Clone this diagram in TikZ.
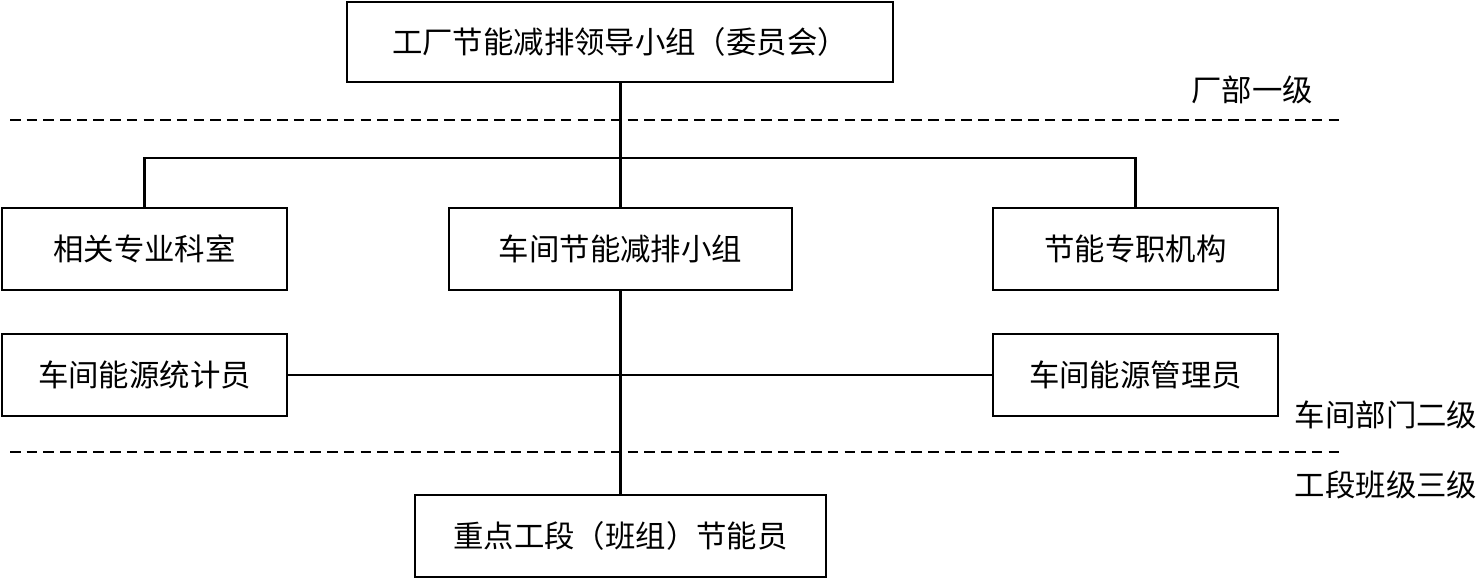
\documentclass[tikz,border=0pt]{standalone}
\usepackage{fontspec}
\setmainfont{Noto Sans CJK SC}
\usetikzlibrary{positioning,calc}

\begin{document}
\begin{tikzpicture}[x=0.02cm,y=-0.02cm]
    \tikzset{b/.style={draw,line width=1.4pt,minimum height=1.64cm,inner sep=0pt,font=\fontsize{17.3}{20}\selectfont},
      lvl/.style={font=\fontsize{17.3}{20}\selectfont,inner sep=0pt},
      ln/.style={line width=1.4pt},
      sep/.style={line width=1.1pt,dash pattern=on 6pt off 3.5pt}}
    \useasboundingbox (0,0) rectangle (1480,579);
    \node[b,minimum width=10.92cm,minimum height=1.6cm] (top) at (620,42) {工厂节能减排领导小组（委员会）};
    \node[b,minimum width=5.7cm] (rel) at (144.5,249) {相关专业科室};
    \node[b,minimum width=6.86cm] (grp) at (620.5,249) {车间节能减排小组};
    \node[b,minimum width=5.7cm] (org) at (1135.5,249) {节能专职机构};
    \node[b,minimum width=5.7cm] (stat) at (144.5,375) {车间能源统计员};
    \node[b,minimum width=5.7cm] (mgr) at (1135.5,375) {车间能源管理员};
    \node[b,minimum width=8.22cm] (team) at (620.5,536) {重点工段（班组）节能员};
    \node[lvl] (l1) at (1252,90) {厂部一级};
    \node[lvl] (l2) at (1386,415) {车间部门二级};
    \node[lvl] (l3) at (1386,485) {工段班级三级};
    \coordinate (bus) at (620.5,158);
    \draw[sep] (10,120) -- (1340,120);
    \draw[sep] (10,452) -- (1340,452);
    \draw[ln] (top.south -| bus) -- (bus);
    \draw[ln] (rel.north) |- (bus) -| (org.north);
    \draw[ln] (bus) -- (grp);
    \draw[ln] (stat) -- (mgr);
    \draw[ln] (grp) -- (team);
  \end{tikzpicture}
\end{document}
